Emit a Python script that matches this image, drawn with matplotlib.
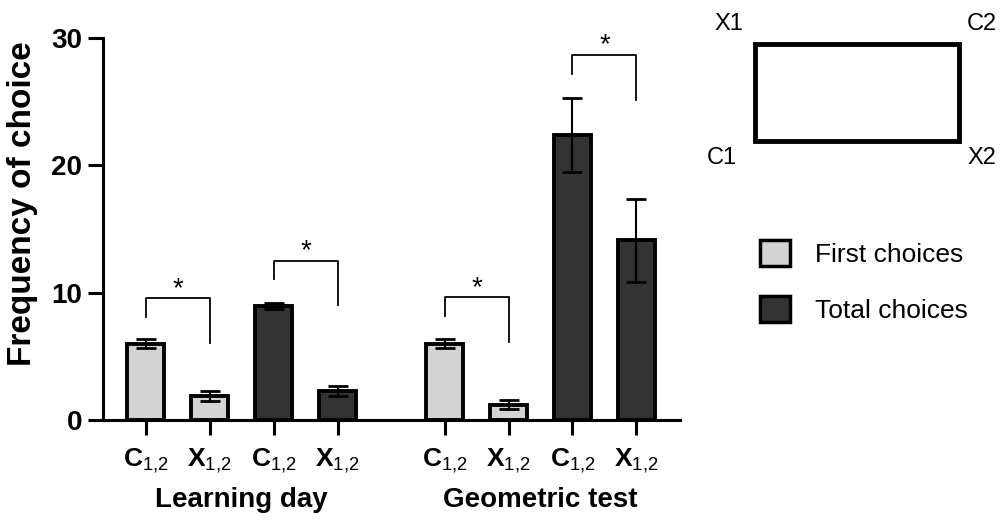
import matplotlib
matplotlib.use('Agg')
import matplotlib.pyplot as plt
from matplotlib.patches import Rectangle, Patch

plt.rcParams['font.family'] = ['Liberation Sans', 'DejaVu Sans']
plt.rcParams['mathtext.fontset'] = 'custom'
plt.rcParams['mathtext.rm'] = 'Liberation Sans'
plt.rcParams['mathtext.bf'] = 'Liberation Sans:bold'

# data
groups = ['Learning day', 'Geometric test']
tick_labels = [r'$\mathbf{C}_{1{,}2}$', r'$\mathbf{X}_{1{,}2}$'] * 4
choice_type = ['First choices', 'First choices', 'Total choices', 'Total choices'] * 2
means = [6.0, 1.9, 8.95, 2.25, 6.0, 1.2, 22.35, 14.1]
errors = [0.35, 0.4, 0.25, 0.4, 0.35, 0.35, 2.9, 3.25]
# significance brackets: (left bar, right bar, top, left leg end, right leg end)
brackets = [(0, 1, 9.55, 8.1, 6.05),
            (2, 3, 12.5, 11.1, 9.0),
            (4, 5, 9.65, 8.15, 6.1),
            (6, 7, 28.7, 27.2, 25.1)]
colors = {'First choices': '#d3d3d3', 'Total choices': '#333333'}
arena_corners = ['X1', 'C2', 'C1', 'X2']

W, H = 1006, 520
fig = plt.figure(figsize=(W / 100, H / 100), dpi=100)
ax = fig.add_axes([103 / W, 1 - 420 / H, 577 / W, 382 / H])

group_gap = 0.67
xpos = [i + (i // 4) * group_gap for i in range(len(means))]

ax.bar(xpos, means, width=0.58, color=[colors[c] for c in choice_type],
       edgecolor='black', linewidth=2.8, zorder=2)
ax.errorbar(xpos, means, yerr=errors, fmt='none', ecolor='black',
            elinewidth=1.5, capsize=7, capthick=2, zorder=3)

for i, j, top, yl, yr in brackets:
    ax.plot([xpos[i], xpos[i], xpos[j], xpos[j]], [yl, top, top, yr],
            color='black', lw=1.3, clip_on=False, zorder=4)
    ax.text((xpos[i] + xpos[j]) / 2, top - 0.3, '*', ha='center', va='bottom',
            fontsize=20, clip_on=False)

ax.set_xlim(-0.667, 8.35)
ax.set_ylim(0, 30)
ax.set_yticks([0, 10, 20, 30])
ax.set_xticks(xpos)
ax.set_xticklabels(tick_labels, fontsize=19)
for lab in ax.get_yticklabels():
    lab.set_fontweight('bold')
    lab.set_fontsize(20)
ax.tick_params(axis='both', length=11, width=2.2, pad=4)
ax.tick_params(axis='x', pad=8)
for s in ['top', 'right']:
    ax.spines[s].set_visible(False)
for s in ['left', 'bottom']:
    ax.spines[s].set_linewidth(2.2)

fig.text(23 / W, 1 - 204 / H, 'Frequency of choice', rotation=90, ha='center',
         va='center', fontsize=24, fontweight='bold')
for g, name in enumerate(groups):
    cx = (xpos[4 * g] + xpos[4 * g + 3]) / 2
    ax.text(cx, -0.21, name, transform=ax.get_xaxis_transform(), ha='center',
            va='center', fontsize=20, fontweight='bold')

# arena sketch
fig.patches.append(Rectangle((755 / W, 1 - 141 / H), 204 / W, 97 / H,
                             transform=fig.transFigure, fill=False,
                             edgecolor='black', linewidth=3.5))
corner_xy = [(729, 24), (982, 24), (722, 158), (982, 158)]
for name, (px, py) in zip(arena_corners, corner_xy):
    fig.text(px / W, 1 - py / H, name, ha='center', va='center', fontsize=17)

handles = [Patch(facecolor=colors[k], edgecolor='black', linewidth=2.5) for k in colors]
fig.legend(handles, list(colors), loc='upper left',
           bbox_to_anchor=(760 / W, 1 - 240 / H), frameon=False, fontsize=19,
           handlelength=1.14, handleheight=1.14, handletextpad=0.95,
           labelspacing=1.09, borderpad=0, borderaxespad=0)

fig.savefig('out.png', dpi=100)
